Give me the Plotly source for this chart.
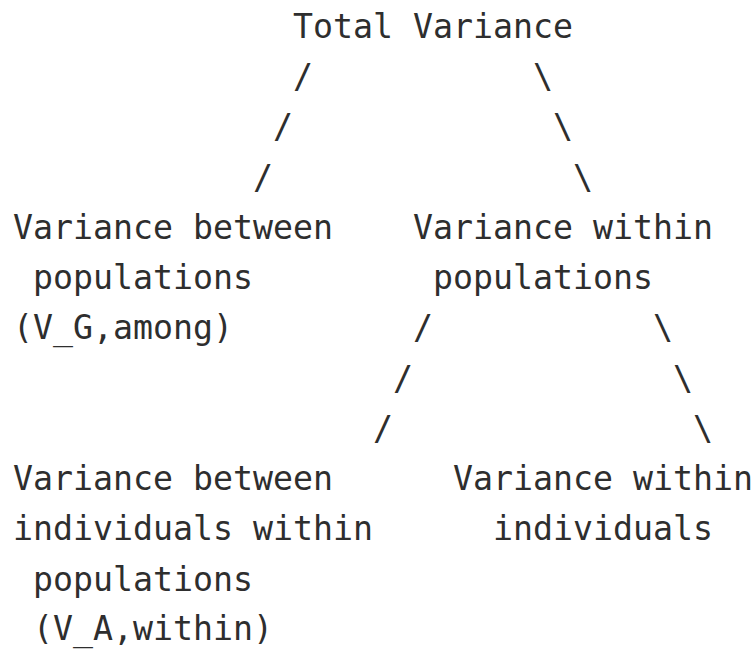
import plotly.graph_objects as go

# ASCII tree diagram lines (monospace layout)
diagram_lines = [
    "              Total Variance",
    "              /           \\",
    "             /             \\",
    "            /               \\",
    "Variance between    Variance within",
    " populations         populations",
    "(V_G,among)         /           \\",
    "                   /             \\",
    "                  /               \\",
    "Variance between      Variance within",
    "individuals within      individuals",
    " populations",
    " (V_A,within)",
]

W, H = 756, 650
char_w = 20.0
font_size = char_w / 0.602
x0 = 12
y0 = 26
line_h = 50.25

fig = go.Figure()
fig.add_trace(go.Scatter(x=[0, W], y=[0, H], mode="markers",
                         marker=dict(opacity=0), hoverinfo="skip", showlegend=False))

for i, line in enumerate(diagram_lines):
    fig.add_annotation(
        x=x0, y=round(y0 + i * line_h), xref="x", yref="y",
        text=line.replace(" ", "\u00a0"),
        showarrow=False, xanchor="left", yanchor="middle",
        borderpad=0,
        font=dict(family="DejaVu Sans Mono", size=font_size, color="#2e2e2e"),
    )

fig.update_layout(
    width=W, height=H,
    margin=dict(l=0, r=0, t=0, b=0),
    paper_bgcolor="white", plot_bgcolor="white",
    xaxis=dict(range=[0, W], visible=False, fixedrange=True),
    yaxis=dict(range=[H, 0], visible=False, fixedrange=True),
    showlegend=False,
)

fig.write_html(
    "out.html",
    config={"displayModeBar": False},
    post_script="document.body.style.margin='0';document.body.style.overflow='hidden';",
)
